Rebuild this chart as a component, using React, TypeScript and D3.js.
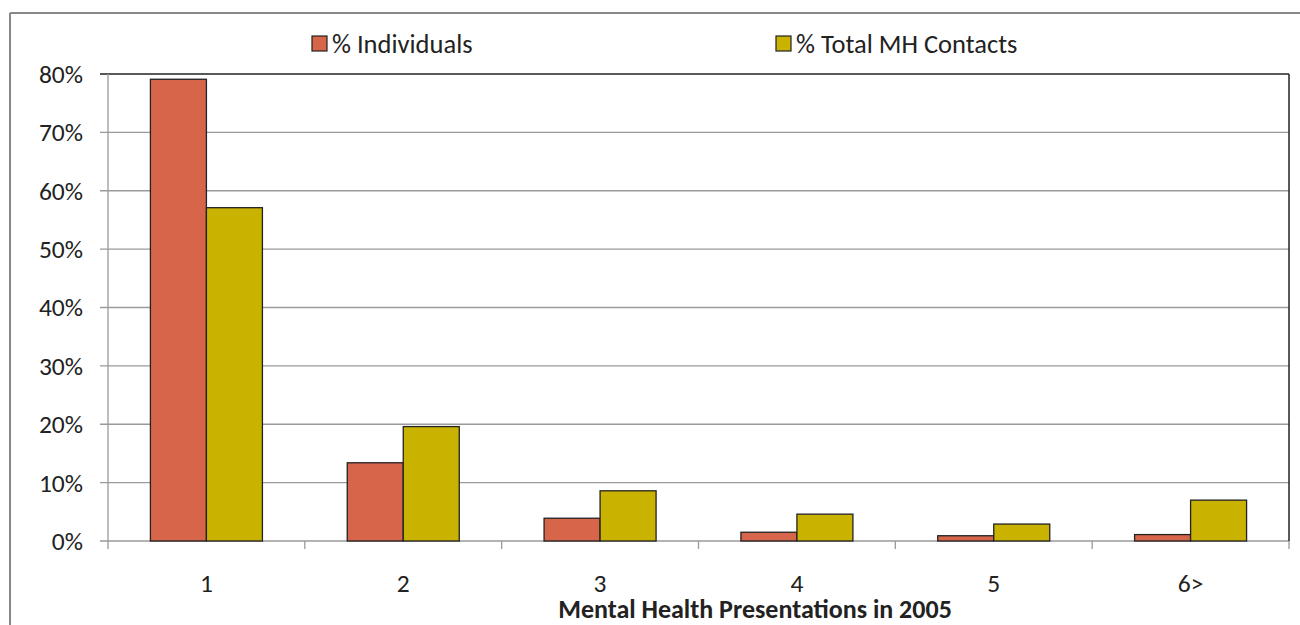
import React from "react";
import * as d3 from "d3";

const categories = ["1", "2", "3", "4", "5", "6>"];
const individuals = [79.1, 13.4, 3.9, 1.5, 0.9, 1.1];
const totalContacts = [57.1, 19.6, 8.6, 4.6, 2.9, 7.0];
const seriesNames = ["% Individuals", "% Total MH Contacts"];
const seriesColors = ["#D6654A", "#C9B300"];
const yTicks = [0, 10, 20, 30, 40, 50, 60, 70, 80];

const W = 1300, H = 625;
const M = { left: 108, top: 74, right: 1289, bottom: 541 };
const FONT = "Carlito, 'Liberation Sans Narrow', 'Open Sans', sans-serif";

export default function App() {
  const x = d3.scaleBand<string>().domain(categories).range([M.left, M.right]).paddingInner(0).paddingOuter(0);
  const y = d3.scaleLinear().domain([0, 80]).range([M.bottom, M.top]);
  const bw = 56;
  const series = [individuals, totalContacts];
  return (
    <svg width={W} height={H} style={{ position: "absolute", left: 0, top: 0, background: "#fff" }}>
      <rect x={0} y={0} width={W} height={H} fill="#fff" />
      <line x1={10} y1={13} x2={W} y2={13} stroke="#888" strokeWidth={2} />
      <line x1={10} y1={13} x2={10} y2={H} stroke="#888" strokeWidth={2} />
      {yTicks.map((t) => (
        <g key={t}>
          <line x1={M.left - 8} x2={M.right} y1={y(t)} y2={y(t)} stroke={t === 80 ? "#222" : "#9a9a9a"} strokeWidth={t === 80 ? 1.5 : 1.3} />
          <text x={83} y={y(t)} dy="0.35em" textAnchor="end" fontFamily={FONT} fontSize={25.5} fill="#222">{t}%</text>
        </g>
      ))}
      <line x1={M.left} x2={M.left} y1={M.top} y2={M.bottom + 8} stroke="#9a9a9a" strokeWidth={1.3} />
      <line x1={M.right} x2={M.right} y1={M.top} y2={M.bottom} stroke="#222" strokeWidth={1.5} />
      {categories.map((c) => (
        <line key={c} x1={x(c)! + x.bandwidth()} x2={x(c)! + x.bandwidth()} y1={M.bottom} y2={M.bottom + 8} stroke="#9a9a9a" strokeWidth={1.3} />
      ))}
      {categories.map((c, i) => {
        const cx = x(c)! + x.bandwidth() / 2;
        return (
          <g key={c}>
            {series.map((s, j) => (
              <rect key={j} x={cx - bw + j * bw} y={y(s[i])} width={bw} height={y(0) - y(s[i])} fill={seriesColors[j]} stroke="#222" strokeWidth={1.3} />
            ))}
            <text x={cx} y={592} textAnchor="middle" fontFamily={FONT} fontSize={25.5} fill="#222">{c}</text>
          </g>
        );
      })}
      <text x={755} y={618} textAnchor="middle" fontFamily={FONT} fontSize={26} fontWeight="bold" fill="#222">Mental Health Presentations in 2005</text>
      {seriesNames.map((n, j) => {
        const lx = [312, 776][j];
        return (
          <g key={n}>
            <rect x={lx} y={36} width={15} height={15} fill={seriesColors[j]} stroke="#222" strokeWidth={1.2} />
            <text x={lx + 20} y={44} dy="0.35em" fontFamily={FONT} fontSize={26.5} fill="#222">{n}</text>
          </g>
        );
      })}
    </svg>
  );
}
